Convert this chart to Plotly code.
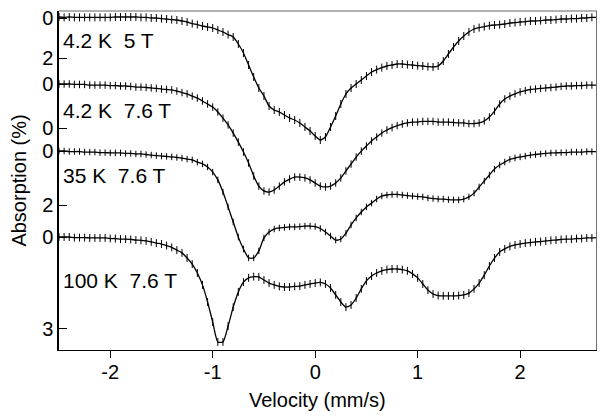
import numpy as np
import plotly.graph_objects as go

# velocity channels (mm/s)
velocity = np.round(np.arange(-2.5, 2.7501, 0.05), 2)

# absorption (%)
abs_42k_5t = [
    -0.05, -0.03, -0.05, -0.03, -0.03, -0.03, -0.03, -0.03, -0.03, -0.03,
    -0.03, -0.05, -0.05, -0.05, -0.05, -0.05, -0.03, -0.03, 0.00, 0.00,
    0.03, 0.05, 0.08, 0.10, 0.15, 0.20, 0.28, 0.33, 0.40, 0.45,
    0.50, 0.60, 0.70, 0.83, 0.95, 1.30, 1.75, 2.35, 2.95, 3.50,
    3.90, 4.40, 4.60, 4.70, 4.85, 5.00, 5.10, 5.25, 5.45, 5.65,
    5.90, 6.10, 5.95, 5.45, 4.90, 4.30, 3.80, 3.50, 3.30, 3.10,
    2.90, 2.70, 2.58, 2.48, 2.40, 2.35, 2.30, 2.30, 2.33, 2.35,
    2.38, 2.40, 2.43, 2.45, 2.40, 2.15, 1.80, 1.45, 1.15, 0.90,
    0.70, 0.55, 0.48, 0.43, 0.38, 0.35, 0.33, 0.30, 0.25, 0.23,
    0.20, 0.18, 0.15, 0.15, 0.13, 0.10, 0.10, 0.08, 0.05, 0.05,
    0.03, 0.03, 0.00, 0.00, -0.03, -0.03,
]
abs_42k_76t = [
    0.00, 0.00, 0.00, 0.02, 0.02, 0.02, 0.05, 0.05, 0.05, 0.05,
    0.07, 0.07, 0.09, 0.09, 0.11, 0.14, 0.14, 0.16, 0.18, 0.20,
    0.23, 0.25, 0.27, 0.32, 0.39, 0.45, 0.55, 0.64, 0.77, 0.91,
    1.05, 1.27, 1.55, 1.86, 2.23, 2.64, 3.09, 3.59, 4.18, 4.64,
    4.86, 4.91, 4.82, 4.64, 4.45, 4.32, 4.23, 4.23, 4.27, 4.36,
    4.50, 4.64, 4.68, 4.64, 4.50, 4.27, 3.95, 3.64, 3.32, 3.05,
    2.82, 2.59, 2.41, 2.23, 2.09, 1.98, 1.89, 1.82, 1.77, 1.73,
    1.73, 1.70, 1.70, 1.70, 1.73, 1.73, 1.73, 1.75, 1.77, 1.77,
    1.80, 1.80, 1.77, 1.68, 1.50, 1.23, 0.91, 0.68, 0.55, 0.45,
    0.36, 0.30, 0.25, 0.23, 0.20, 0.18, 0.16, 0.14, 0.11, 0.09,
    0.09, 0.07, 0.07, 0.05, 0.05, 0.05,
]
abs_35k_76t = [
    0.00, 0.00, 0.02, 0.02, 0.02, 0.04, 0.04, 0.04, 0.06, 0.06,
    0.07, 0.07, 0.07, 0.09, 0.09, 0.11, 0.11, 0.13, 0.15, 0.17,
    0.19, 0.20, 0.22, 0.24, 0.26, 0.30, 0.33, 0.41, 0.48, 0.59,
    0.78, 1.07, 1.52, 2.07, 2.63, 3.19, 3.63, 3.96, 3.96, 3.70,
    3.22, 3.00, 2.89, 2.85, 2.83, 2.81, 2.81, 2.80, 2.78, 2.78,
    2.80, 2.87, 3.00, 3.15, 3.30, 3.26, 3.04, 2.74, 2.48, 2.26,
    2.07, 1.93, 1.78, 1.67, 1.63, 1.61, 1.61, 1.63, 1.65, 1.67,
    1.69, 1.70, 1.74, 1.76, 1.78, 1.78, 1.80, 1.81, 1.81, 1.78,
    1.70, 1.56, 1.33, 1.11, 0.89, 0.67, 0.52, 0.41, 0.31, 0.26,
    0.22, 0.19, 0.15, 0.13, 0.11, 0.09, 0.07, 0.07, 0.06, 0.06,
    0.04, 0.04, 0.04, 0.02, 0.02, 0.02,
]
abs_100k_76t = [
    0.00, 0.00, 0.00, 0.02, 0.02, 0.02, 0.03, 0.03, 0.03, 0.03,
    0.05, 0.05, 0.07, 0.07, 0.08, 0.10, 0.11, 0.13, 0.16, 0.20,
    0.23, 0.28, 0.34, 0.43, 0.52, 0.69, 0.89, 1.18, 1.57, 2.13,
    2.79, 3.44, 3.44, 2.92, 2.30, 1.80, 1.48, 1.34, 1.30, 1.31,
    1.41, 1.51, 1.57, 1.62, 1.64, 1.64, 1.62, 1.61, 1.57, 1.54,
    1.51, 1.49, 1.54, 1.67, 1.90, 2.13, 2.30, 2.23, 2.00, 1.70,
    1.44, 1.28, 1.18, 1.11, 1.07, 1.05, 1.05, 1.07, 1.11, 1.21,
    1.34, 1.54, 1.74, 1.87, 1.92, 1.93, 1.93, 1.93, 1.92, 1.90,
    1.84, 1.70, 1.51, 1.25, 0.95, 0.69, 0.49, 0.39, 0.31, 0.26,
    0.23, 0.20, 0.18, 0.16, 0.15, 0.13, 0.11, 0.10, 0.08, 0.07,
    0.07, 0.05, 0.05, 0.03, 0.03, 0.02,
]

spectra = [abs_42k_5t, abs_42k_76t, abs_35k_76t, abs_100k_76t]
labels = ["4.2 K\u00a0\u00a05 T", "4.2 K\u00a0\u00a07.6 T",
          "35 K\u00a0\u00a07.6 T", "100 K\u00a0\u00a07.6 T"]
errors = [0.20, 0.17, 0.12, 0.13]
spec_ticks = [[0, 2], [0, 2], [0, 2], [0, 3]]
spec_tick_text = [["0", "2"], ["0", "0"], ["0", "2"], ["0", "3"]]
vel_ticks = [-2, -1, 0, 1, 2]
vel_tick_text = ["-2", "-1", "0", "1", "2"]

# stacking: baseline and scale of each spectrum on the shared axis
offsets = [18, 84, 151, 237]
scales = [20, 22, 27, 30.5]
label_y = [40, 110, 175, 280]

font = "Liberation Sans, Arial, sans-serif"

fig = go.Figure()
tickvals = []
ticktext = []
annotations = []
for vals, lab, err, off, sc, ty, tt, ly in zip(
        spectra, labels, errors, offsets, scales, spec_ticks, spec_tick_text, label_y):
    y = off + sc * np.array(vals)
    fig.add_trace(go.Scatter(
        x=velocity, y=y, mode="markers",
        marker=dict(size=1, color="black"),
        error_y=dict(type="constant", value=err * sc, width=0, thickness=1, color="black"),
        hoverinfo="skip"))
    fig.add_trace(go.Scatter(
        x=velocity, y=y, mode="lines",
        line=dict(color="black", width=1.3, shape="spline", smoothing=0.6)))
    tickvals += [off + sc * t for t in ty]
    ticktext += tt
    annotations.append(dict(x=0.004, xref="paper", y=ly, yref="y", text=lab,
                            showarrow=False, xanchor="left", yanchor="middle",
                            font=dict(size=21, color="black", family=font)))

annotations.append(dict(x=0.48, xref="paper", y=-0.148, yref="paper",
                        text="Velocity (mm/s)", showarrow=False,
                        xanchor="center", yanchor="middle",
                        font=dict(size=20, color="black", family=font)))
annotations.append(dict(x=-0.076, xref="paper", y=0.5, yref="paper",
                        text="Absorption (%)", showarrow=False, textangle=-90,
                        xanchor="center", yanchor="middle",
                        font=dict(size=20, color="black", family=font)))

# the page body adds an 8px margin, so the figure is sized for that
fig.update_layout(
    width=597, height=412,
    margin=dict(l=51, r=8, t=3, b=70),
    plot_bgcolor="white", paper_bgcolor="white",
    showlegend=False,
    font=dict(family=font, size=20, color="black"),
    annotations=annotations,
    shapes=[
        dict(type="line", xref="paper", yref="paper", x0=0, x1=1, y0=1, y1=1,
             line=dict(color="#999999", width=1.5)),
        dict(type="line", xref="paper", yref="paper", x0=1, x1=1, y0=0, y1=1,
             line=dict(color="#707070", width=2)),
    ],
)
fig.update_xaxes(range=[-2.5, 2.75], tickvals=vel_ticks, ticktext=vel_tick_text,
                 ticks="outside", ticklen=7, tickcolor="black",
                 showline=True, linecolor="black", linewidth=1,
                 showgrid=False, zeroline=False, automargin=False,
                 ticklabelstandoff=-3,
                 tickfont=dict(size=20, color="black"))
fig.update_yaxes(range=[350, 11], tickvals=tickvals, ticktext=ticktext,
                 ticks="inside", ticklen=8, tickcolor="black",
                 showline=True, linecolor="black", linewidth=1.5,
                 showgrid=False, zeroline=False, automargin=False,
                 ticklabeloverflow="allow",
                 tickfont=dict(size=20, color="black"))

fig.write_html("out.html")
